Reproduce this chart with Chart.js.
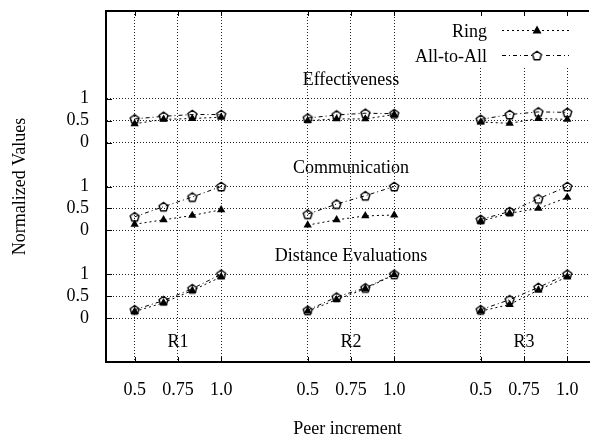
<!DOCTYPE html>
<html>
<head>
<meta charset="utf-8">
<script src="https://cdn.jsdelivr.net/npm/chart.js@4/dist/chart.umd.min.js"></script>
<style>
html, body { margin: 0; padding: 0; background: #fff; }
</style>
</head>
<body>
<canvas id="myChart" width="595" height="435"></canvas>
<script>
const groups = ['R1', 'R2', 'R3'];
const metrics = ['Effectiveness', 'Communication', 'Distance Evaluations'];
const peer_increment = [0.5, 0.667, 0.833, 1.0];
const x_ticks = [0.5, 0.75, 1.0];
const x_tick_labels = ['0.5', '0.75', '1.0'];
const y_ticks = [0, 0.5, 1];
const y_tick_labels = ['0', '0.5', '1'];

// one row per group: R1, R2, R3
const ring_effectiveness = [[0.43, 0.53, 0.55, 0.58], [0.50, 0.54, 0.54, 0.64], [0.47, 0.44, 0.55, 0.53]];
const ring_communication = [[0.14, 0.24, 0.34, 0.47], [0.12, 0.24, 0.33, 0.35], [0.21, 0.39, 0.50, 0.75]];
const ring_distance = [[0.15, 0.35, 0.63, 0.94], [0.16, 0.42, 0.67, 0.99], [0.16, 0.31, 0.64, 0.94]];

const all_effectiveness = [[0.54, 0.60, 0.64, 0.64], [0.56, 0.63, 0.67, 0.66], [0.53, 0.64, 0.70, 0.69]];
const all_communication = [[0.31, 0.54, 0.76, 1.0], [0.37, 0.60, 0.79, 1.0], [0.25, 0.43, 0.72, 1.0]];
const all_distance = [[0.19, 0.40, 0.67, 1.0], [0.18, 0.48, 0.69, 1.0], [0.19, 0.42, 0.70, 1.0]];

// panels are stacked on one y axis, groups side by side on one x axis
const panel_offset = [4, 2, 0];
const group_offset = [0, 1, 2];

const FONT = "'Liberation Serif', 'Times New Roman', serif";
Chart.defaults.font.family = FONT;
Chart.defaults.font.size = 18;
Chart.defaults.color = '#000';

function build_series(panels) {
    let pts = [];
    panels.forEach((panel, p) => {
        panel.forEach((row, g) => {
            row.forEach((v, i) => {
                pts.push({x: peer_increment[i] + group_offset[g], y: v + panel_offset[p]});
            });
            pts.push({x: group_offset[g] + 1.2, y: null}); // break the line
        });
    });
    return pts;
}

function pentagon_img() {
    let c = document.createElement('canvas');
    c.width = 13; c.height = 13;
    let g = c.getContext('2d');
    g.strokeStyle = '#000';
    g.lineWidth = 1.4;
    g.lineJoin = 'round';
    g.beginPath();
    for (let i = 0; i < 5; i++) {
        let a = -Math.PI / 2 + i * 2 * Math.PI / 5;
        let px = 6.5 + 4.7 * Math.cos(a), py = 6.9 + 4.7 * Math.sin(a);
        if (i === 0) g.moveTo(px, py); else g.lineTo(px, py);
    }
    g.closePath();
    g.stroke();
    return c;
}
const pentagon = pentagon_img();

const ring_dash = [2, 3];
const all_dash = [4, 3, 1, 3];

function all_x_ticks() {
    let t = [];
    group_offset.forEach(o => x_ticks.forEach(v => t.push({value: v + o})));
    return t;
}
function all_y_ticks() {
    let t = [];
    panel_offset.slice().reverse().forEach(o => y_ticks.forEach(v => t.push({value: v + o})));
    return t;
}
function label_of(value, ticks, labels, offsets) {
    for (let o of offsets) {
        for (let i = 0; i < ticks.length; i++) {
            if (Math.abs(value - o - ticks[i]) < 1e-6) return labels[i];
        }
    }
    return '';
}

const extras = {
    id: 'extras',
    afterDraw(chart) {
        const ctx = chart.ctx;
        const a = chart.chartArea;
        const xs = chart.scales.x, ys = chart.scales.y;
        ctx.save();

        // key background (gnuplot key covers the grid)
        ctx.fillStyle = '#fff';
        ctx.fillRect(410, 13, 185, 54);

        // top border
        ctx.strokeStyle = '#000';
        ctx.lineWidth = 2;
        ctx.beginPath();
        ctx.moveTo(a.left - 1, a.top);
        ctx.lineTo(a.right, a.top);
        ctx.stroke();

        // inward tick marks
        ctx.lineWidth = 1;
        ctx.beginPath();
        xs.ticks.forEach(t => {
            let px = Math.round(xs.getPixelForValue(t.value)) + 0.5;
            ctx.moveTo(px, a.top); ctx.lineTo(px, a.top + 5);
            ctx.moveTo(px, a.bottom); ctx.lineTo(px, a.bottom - 5);
        });
        ys.ticks.forEach(t => {
            let py = Math.round(ys.getPixelForValue(t.value)) + 0.5;
            ctx.moveTo(a.left, py); ctx.lineTo(a.left + 6, py);
        });
        ctx.stroke();

        // panel and group labels
        ctx.fillStyle = '#000';
        ctx.font = '18px ' + FONT;
        ctx.textAlign = 'center';
        ctx.textBaseline = 'middle';
        metrics.forEach((m, p) => {
            ctx.fillText(m, xs.getPixelForValue(1.75), ys.getPixelForValue(panel_offset[p] + 1.42));
        });
        groups.forEach((g, i) => {
            ctx.fillText(g, xs.getPixelForValue(0.75 + group_offset[i]), ys.getPixelForValue(-0.55));
        });

        // key
        ctx.textAlign = 'right';
        ctx.fillText('Ring', 487, 32);
        ctx.fillText('All-to-All', 487, 57);
        ctx.lineWidth = 1;
        ctx.setLineDash(ring_dash);
        ctx.beginPath(); ctx.moveTo(502, 30.5); ctx.lineTo(569, 30.5); ctx.stroke();
        ctx.setLineDash(all_dash);
        ctx.beginPath(); ctx.moveTo(502, 55.5); ctx.lineTo(569, 55.5); ctx.stroke();
        ctx.setLineDash([]);
        ctx.beginPath();
        ctx.moveTo(537, 25.5); ctx.lineTo(541.5, 33.5); ctx.lineTo(532.5, 33.5);
        ctx.closePath(); ctx.fill();
        ctx.fillStyle = '#fff';
        ctx.fillRect(532, 50, 11, 11);
        ctx.drawImage(pentagon, 537 - 6.5, 55.5 - 6.5);
        ctx.restore();
    }
};

function myChart() {
    let ctx = document.getElementById('myChart').getContext('2d');
    new Chart(ctx, {
        type: 'line',
        data: {
            datasets: [{
                    label: 'Ring',
                    data: build_series([ring_effectiveness, ring_communication, ring_distance]),
                    borderColor: '#000',
                    backgroundColor: '#000',
                    borderWidth: 1,
                    borderDash: ring_dash,
                    pointStyle: 'triangle',
                    pointRadius: 4.8,
                    pointBorderWidth: 0,
                    spanGaps: false
                },
                {
                    label: 'All-to-All',
                    data: build_series([all_effectiveness, all_communication, all_distance]),
                    borderColor: '#000',
                    backgroundColor: 'transparent',
                    borderWidth: 1,
                    borderDash: all_dash,
                    pointStyle: pentagon,
                    pointRadius: 5,
                    spanGaps: false
                }
            ]
        },
        options: {
            responsive: false,
            animation: false,
            events: [],
            layout: {padding: {top: 11, left: 0, right: 0, bottom: 0}},
            elements: {line: {tension: 0}},
            plugins: {legend: {display: false}, tooltip: {enabled: false}},
            scales: {
                x: {
                    type: 'linear',
                    min: 0.3345,
                    max: 3.1256,
                    afterBuildTicks: s => { s.ticks = all_x_ticks(); },
                    afterFit: s => { s.height = 73; s.paddingLeft = 0; s.paddingRight = 0; },
                    grid: {color: '#222', lineWidth: 1, drawTicks: false},
                    border: {color: '#000', width: 2, dash: [1, 2]},
                    ticks: {
                        autoSkip: false, maxRotation: 0, padding: 17,
                        callback: v => label_of(v, x_ticks, x_tick_labels, group_offset)
                    },
                    title: {display: true, text: 'Peer increment', padding: {top: 0, bottom: -5}}
                },
                y: {
                    type: 'linear',
                    min: -1,
                    max: 7,
                    afterBuildTicks: s => { s.ticks = all_y_ticks(); },
                    afterFit: s => { s.width = 106; s.paddingTop = 0; s.paddingBottom = 0; },
                    grid: {color: '#222', lineWidth: 1, drawTicks: false},
                    border: {color: '#000', width: 2, dash: [1, 2]},
                    ticks: {
                        autoSkip: false, padding: 17,
                        callback: v => label_of(v, y_ticks, y_tick_labels, panel_offset)
                    },
                    title: {display: true, text: 'Normalized Values', padding: {top: 9, bottom: 0}}
                }
            }
        },
        plugins: [extras]
    });
}
myChart()
</script>
</body>
</html>
